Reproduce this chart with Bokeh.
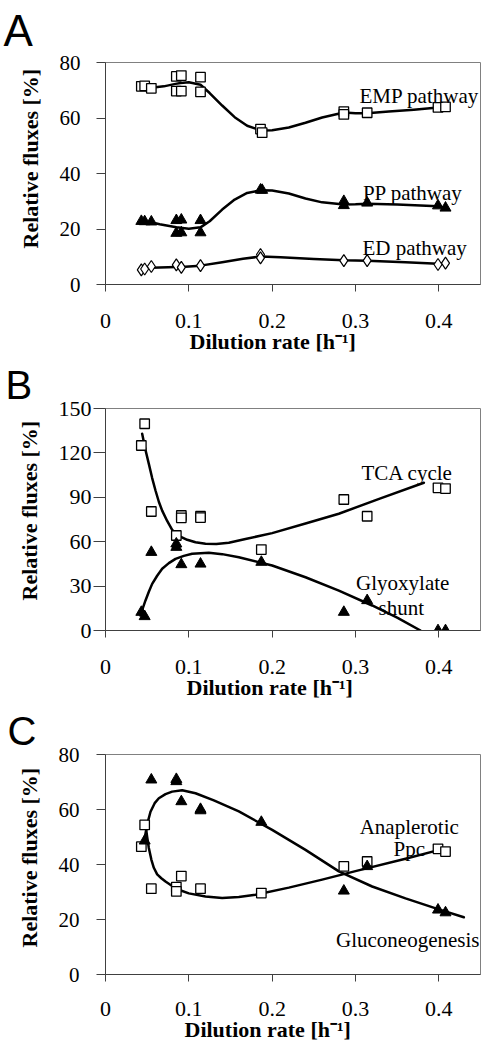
from bokeh.plotting import figure
from bokeh.models import Label, FixedTicker, Range1d, Title
from bokeh.layouts import column
from bokeh.embed import file_html
from bokeh.resources import INLINE

# ---------------- shared axis data ----------------
x_ticks = [0, 0.1, 0.2, 0.3, 0.4]
x_tick_labels = ["0", "0.1", "0.2", "0.3", "0.4"]
yA_ticks = [0, 20, 40, 60, 80]
yB_ticks = [0, 30, 60, 90, 120, 150]
yC_ticks = [0, 20, 40, 60, 80]

# ---------------- Panel A ----------------
emp_D = [0.043, 0.047, 0.055, 0.085, 0.091, 0.085, 0.091, 0.114, 0.114, 0.186, 0.188, 0.286, 0.286, 0.314, 0.399, 0.408]
emp_v = [71.4, 71.6, 70.7, 75.0, 75.3, 69.7, 69.7, 74.7, 69.4, 56.0, 54.7, 62.3, 61.3, 61.9, 63.8, 64.0]
pp_D = [0.043, 0.047, 0.055, 0.085, 0.091, 0.085, 0.091, 0.114, 0.114, 0.186, 0.188, 0.286, 0.286, 0.314, 0.399, 0.408]
pp_v = [22.8, 22.7, 22.6, 23.1, 23.3, 18.5, 18.7, 23.1, 18.7, 34.1, 34.0, 30.0, 28.5, 29.4, 28.4, 27.6]
ed_D = [0.043, 0.047, 0.055, 0.085, 0.091, 0.114, 0.186, 0.186, 0.286, 0.314, 0.399, 0.408]
ed_v = [5.3, 5.6, 6.5, 7.1, 6.2, 6.8, 10.8, 9.6, 8.6, 8.6, 7.2, 7.7]

emp_curve_D = [0.041, 0.046, 0.055, 0.070, 0.084, 0.090, 0.100, 0.114, 0.125, 0.140, 0.155, 0.170, 0.187, 0.200, 0.220, 0.240, 0.260, 0.286, 0.300, 0.314, 0.340, 0.370, 0.399, 0.408]
emp_curve_v = [71.2, 71.2, 70.9, 71.4, 72.3, 72.6, 72.9, 72.0, 69.0, 64.5, 60.3, 57.2, 55.5, 55.6, 56.6, 58.3, 60.2, 62.0, 61.7, 61.7, 62.3, 63.0, 63.8, 64.0]
pp_curve_D = [0.043, 0.055, 0.065, 0.085, 0.100, 0.114, 0.125, 0.140, 0.155, 0.170, 0.187, 0.200, 0.220, 0.240, 0.260, 0.286, 0.300, 0.314, 0.350, 0.399, 0.409]
pp_curve_v = [22.8, 22.4, 21.7, 20.6, 20.1, 20.6, 22.8, 27.0, 30.6, 33.0, 34.0, 33.9, 32.8, 31.0, 29.6, 28.8, 28.9, 29.1, 28.8, 28.2, 27.6]
ed_curve_D = [0.043, 0.055, 0.085, 0.091, 0.114, 0.140, 0.165, 0.187, 0.210, 0.250, 0.286, 0.314, 0.360, 0.399, 0.408]
ed_curve_v = [5.5, 6.0, 6.3, 6.3, 6.8, 8.0, 9.3, 10.1, 9.8, 9.2, 8.7, 8.6, 8.0, 7.5, 7.6]

# ---------------- Panel B ----------------
tca_D = [0.043, 0.047, 0.055, 0.085, 0.091, 0.091, 0.114, 0.114, 0.187, 0.286, 0.314, 0.399, 0.408]
tca_v = [125.0, 139.7, 80.4, 64.2, 77.7, 76.1, 77.2, 76.3, 54.7, 88.5, 77.2, 96.4, 95.9]
gly_D = [0.043, 0.047, 0.055, 0.085, 0.085, 0.091, 0.114, 0.187, 0.286, 0.314, 0.399, 0.408]
gly_v = [12.4, 9.5, 52.9, 58.6, 56.3, 44.6, 45.0, 46.2, 12.4, 20.3, 0.0, 0.0]

tca_curve_D = [0.044, 0.048, 0.052, 0.056, 0.060, 0.064, 0.068, 0.074, 0.080, 0.088, 0.098, 0.108, 0.120, 0.133, 0.148, 0.168, 0.200, 0.240, 0.280, 0.330, 0.382]
tca_curve_v = [132.9, 122.0, 112.6, 103.0, 94.6, 87.0, 81.0, 74.0, 68.0, 64.0, 61.3, 59.6, 58.6, 58.5, 59.3, 61.8, 65.8, 72.3, 78.9, 89.3, 99.8]
gly_curve_D = [0.042, 0.045, 0.048, 0.052, 0.056, 0.062, 0.068, 0.076, 0.084, 0.094, 0.104, 0.124, 0.140, 0.160, 0.200, 0.240, 0.280, 0.320, 0.350, 0.378]
gly_curve_v = [10.1, 15.5, 20.3, 26.2, 31.5, 37.0, 41.7, 45.5, 48.4, 50.4, 51.8, 52.5, 51.6, 49.5, 43.9, 36.0, 27.0, 16.9, 8.7, 0.0]

# ---------------- Panel C ----------------
glu_D = [0.047, 0.055, 0.085, 0.085, 0.091, 0.114, 0.114, 0.187, 0.286, 0.314, 0.399, 0.408]
glu_v = [48.6, 70.8, 71.0, 70.2, 62.9, 60.1, 59.6, 55.4, 30.4, 39.3, 23.5, 22.5]
ppc_D = [0.043, 0.047, 0.055, 0.085, 0.085, 0.091, 0.114, 0.187, 0.286, 0.314, 0.399, 0.408]
ppc_v = [46.5, 54.4, 31.2, 31.8, 30.2, 35.8, 31.2, 29.6, 39.3, 41.1, 45.7, 44.7]

glu_curve_D = [0.047, 0.050, 0.054, 0.059, 0.064, 0.072, 0.080, 0.092, 0.108, 0.130, 0.160, 0.200, 0.240, 0.280, 0.320, 0.360, 0.400, 0.430]
glu_curve_v = [49.6, 54.6, 59.2, 62.3, 64.1, 65.6, 66.5, 67.0, 65.9, 63.3, 59.3, 52.6, 45.3, 37.5, 32.0, 27.7, 23.7, 20.8]
ppc_curve_D = [0.048, 0.050, 0.052, 0.055, 0.058, 0.062, 0.067, 0.072, 0.080, 0.088, 0.100, 0.120, 0.140, 0.160, 0.180, 0.220, 0.260, 0.300, 0.360, 0.404]
ppc_curve_v = [54.4, 50.0, 46.0, 41.8, 38.8, 36.4, 35.0, 33.8, 32.2, 30.8, 29.5, 28.4, 27.8, 28.2, 29.0, 31.6, 34.5, 37.6, 42.1, 45.6]

SERIF = "Liberation Serif"
SANS = "Liberation Sans"
X_TITLE = "Dilution rate [h\u207b\u00b9]"
Y_TITLE = "Relative fluxes [%]"


def make_panel(y_max, y_ticks, frame_h, b_top, b_bottom, ytick_out, ytick_standoff,
               ytick_size, xtick_standoff):
    p = figure(output_backend="svg", toolbar_location=None,
               frame_width=375, frame_height=frame_h,
               x_range=Range1d(0, 0.45), y_range=Range1d(0, y_max),
               min_border_left=100, min_border_right=8,
               min_border_top=b_top, min_border_bottom=b_bottom)
    p.xgrid.visible = False
    p.ygrid.visible = False
    p.outline_line_color = "#808080"
    p.outline_line_width = 1
    p.background_fill_color = "white"
    p.border_fill_color = "white"

    p.xaxis.ticker = FixedTicker(ticks=x_ticks)
    p.xaxis.major_label_overrides = {t: l for t, l in zip(x_ticks, x_tick_labels)}
    p.xaxis.major_tick_in = 0
    p.xaxis.major_tick_out = 7
    p.xaxis.major_label_standoff = xtick_standoff
    p.xaxis.major_label_text_font = SERIF
    p.xaxis.major_label_text_font_size = "22px"

    p.yaxis.ticker = FixedTicker(ticks=y_ticks)
    p.yaxis.major_tick_in = 0
    p.yaxis.major_tick_out = ytick_out
    p.yaxis.major_label_standoff = ytick_standoff
    p.yaxis.major_label_text_font = SERIF
    p.yaxis.major_label_text_font_size = ytick_size

    for ax in (p.xaxis, p.yaxis):
        ax.minor_tick_line_color = None
        ax.axis_line_color = "#404040"
        ax.major_tick_line_color = "#404040"
        ax.major_label_text_color = "black"
    return p


def add_titles(p, letter, letter_size, letter_offset, letter_standoff,
               x_offset, x_standoff, y_offset, y_standoff):
    p.add_layout(Title(text=letter, align="left", vertical_align="top",
                       offset=letter_offset, standoff=letter_standoff,
                       text_font=SANS, text_font_size=letter_size, text_font_style="normal",
                       text_color="black"), "above")
    p.add_layout(Title(text=X_TITLE, align="left", vertical_align="top",
                       offset=x_offset, standoff=x_standoff,
                       text_font=SERIF, text_font_size="22px", text_font_style="bold",
                       text_color="black"), "below")
    p.add_layout(Title(text=Y_TITLE, align="left", vertical_align="bottom",
                       offset=y_offset, standoff=y_standoff,
                       text_font=SERIF, text_font_size="22px", text_font_style="bold",
                       text_color="black"), "left")


def add_text(p, x, y, text, size="21px"):
    p.add_layout(Label(x=x, y=y, text=text, text_font=SERIF, text_font_size=size,
                       text_align="center", text_baseline="alphabetic",
                       text_color="black"))


def squares(p, x, y):
    p.scatter(x, y, marker="square", size=9.5, fill_color="white",
              line_color="black", line_width=1.3)


def triangles(p, x, y):
    p.scatter(x, y, marker="triangle", size=11, fill_color="black",
              line_color="black", line_width=1)


def curve(p, x, y):
    p.line(x, y, line_width=2.5, line_color="black", line_join="round", line_cap="round")


# ---------------- build A ----------------
pA = make_panel(80, yA_ticks, 222, 62, 77, 9, 16, "21px", 22)
curve(pA, emp_curve_D, emp_curve_v)
curve(pA, pp_curve_D, pp_curve_v)
curve(pA, ed_curve_D, ed_curve_v)
squares(pA, emp_D, emp_v)
triangles(pA, pp_D, pp_v)
pA.scatter(ed_D, ed_v, marker="diamond", size=12, fill_color="white",
           line_color="black", line_width=1.2)
add_text(pA, 0.3765, 68.1, "EMP pathway")
add_text(pA, 0.3687, 32.8, "PP pathway")
add_text(pA, 0.371, 13.0, "ED pathway")
add_titles(pA, "A", "44px", -102, 10.5, 84, -3, 36, 28)

# ---------------- build B ----------------
pB = make_panel(150, yB_ticks, 222, 47, 77, 12, 2, "22px", 22)
curve(pB, tca_curve_D, tca_curve_v)
curve(pB, gly_curve_D, gly_curve_v)
squares(pB, tca_D, tca_v)
triangles(pB, gly_D, gly_v)
add_text(pB, 0.3621, 106.1, "TCA cycle")
add_text(pB, 0.3567, 31.8, "Glyoxylate")
add_text(pB, 0.3549, 15.5, "shunt")
add_titles(pB, "B", "40px", -100, 0, 81, -3, 30, 27)

# ---------------- build C ----------------
pC = make_panel(80, yC_ticks, 220, 47, 74, 9, 17, "21px", 20)
curve(pC, glu_curve_D, glu_curve_v)
curve(pC, ppc_curve_D, ppc_curve_v)
squares(pC, ppc_D, ppc_v)
triangles(pC, glu_D, glu_v)
add_text(pC, 0.3645, 53.8, "Anaplerotic")
add_text(pC, 0.3645, 45.8, "Ppc")
add_text(pC, 0.3627, 12.7, "Gluconeogenesis")
add_titles(pC, "C", "40px", -98, 0, 79, -4, 27, 28)

layout = column(pA, pB, pC, spacing=0)
open("out.html", "w").write(file_html(layout, INLINE))
